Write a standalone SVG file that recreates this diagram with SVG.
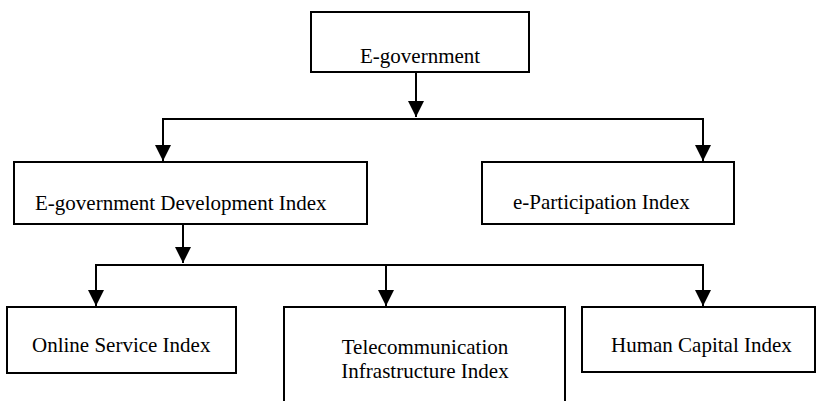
<svg xmlns="http://www.w3.org/2000/svg" width="817" height="401" viewBox="0 0 817 401">
  <style>
    .box { fill: #fff; stroke: #000; stroke-width: 2; }
    .lbl { font-family: "Liberation Serif", "Times New Roman", serif; font-size: 21px; fill: #000; }
    .wire { fill: none; stroke: #000; stroke-width: 2; }
  </style>
  <defs>
    <marker id="arrow" markerUnits="userSpaceOnUse" markerWidth="16" markerHeight="17" refX="16" refY="8" orient="auto">
      <path d="M0,0 L16,8 L0,16 Z" fill="#000"/>
    </marker>
  </defs>

  <g id="connectors">
    <!-- E-government to first level -->
    <line class="wire" x1="416" y1="72" x2="416" y2="117" marker-end="url(#arrow)"/>
    <line class="wire" x1="162" y1="119" x2="704" y2="119"/>
    <line class="wire" x1="163" y1="119" x2="163" y2="161" marker-end="url(#arrow)"/>
    <line class="wire" x1="703" y1="119" x2="703" y2="161" marker-end="url(#arrow)"/>
    <!-- Development Index to components -->
    <line class="wire" x1="183" y1="224" x2="183" y2="263" marker-end="url(#arrow)"/>
    <line class="wire" x1="95" y1="265" x2="704" y2="265"/>
    <line class="wire" x1="96" y1="265" x2="96" y2="306" marker-end="url(#arrow)"/>
    <line class="wire" x1="386" y1="265" x2="386" y2="306" marker-end="url(#arrow)"/>
    <line class="wire" x1="703" y1="265" x2="703" y2="306" marker-end="url(#arrow)"/>
  </g>

  <g id="egov">
    <rect class="box" x="311" y="12" width="218" height="60"/>
    <text class="lbl" x="360" y="63">E-government</text>
  </g>

  <g id="egdi">
    <rect class="box" x="14" y="162" width="353" height="62"/>
    <text class="lbl" x="35" y="210">E-government Development Index</text>
  </g>

  <g id="epart">
    <rect class="box" x="482" y="162" width="252" height="62"/>
    <text class="lbl" x="513" y="209">e-Participation Index</text>
  </g>

  <g id="osi">
    <rect class="box" x="7" y="307" width="229" height="66"/>
    <text class="lbl" x="32" y="352">Online Service Index</text>
  </g>

  <g id="tii">
    <rect class="box" x="284" y="307" width="281" height="110"/>
    <text class="lbl" x="425" y="354" text-anchor="middle">Telecommunication</text>
    <text class="lbl" x="425" y="378" text-anchor="middle">Infrastructure Index</text>
  </g>

  <g id="hci">
    <rect class="box" x="582" y="307" width="233" height="65"/>
    <text class="lbl" x="611" y="352">Human Capital Index</text>
  </g>
</svg>
